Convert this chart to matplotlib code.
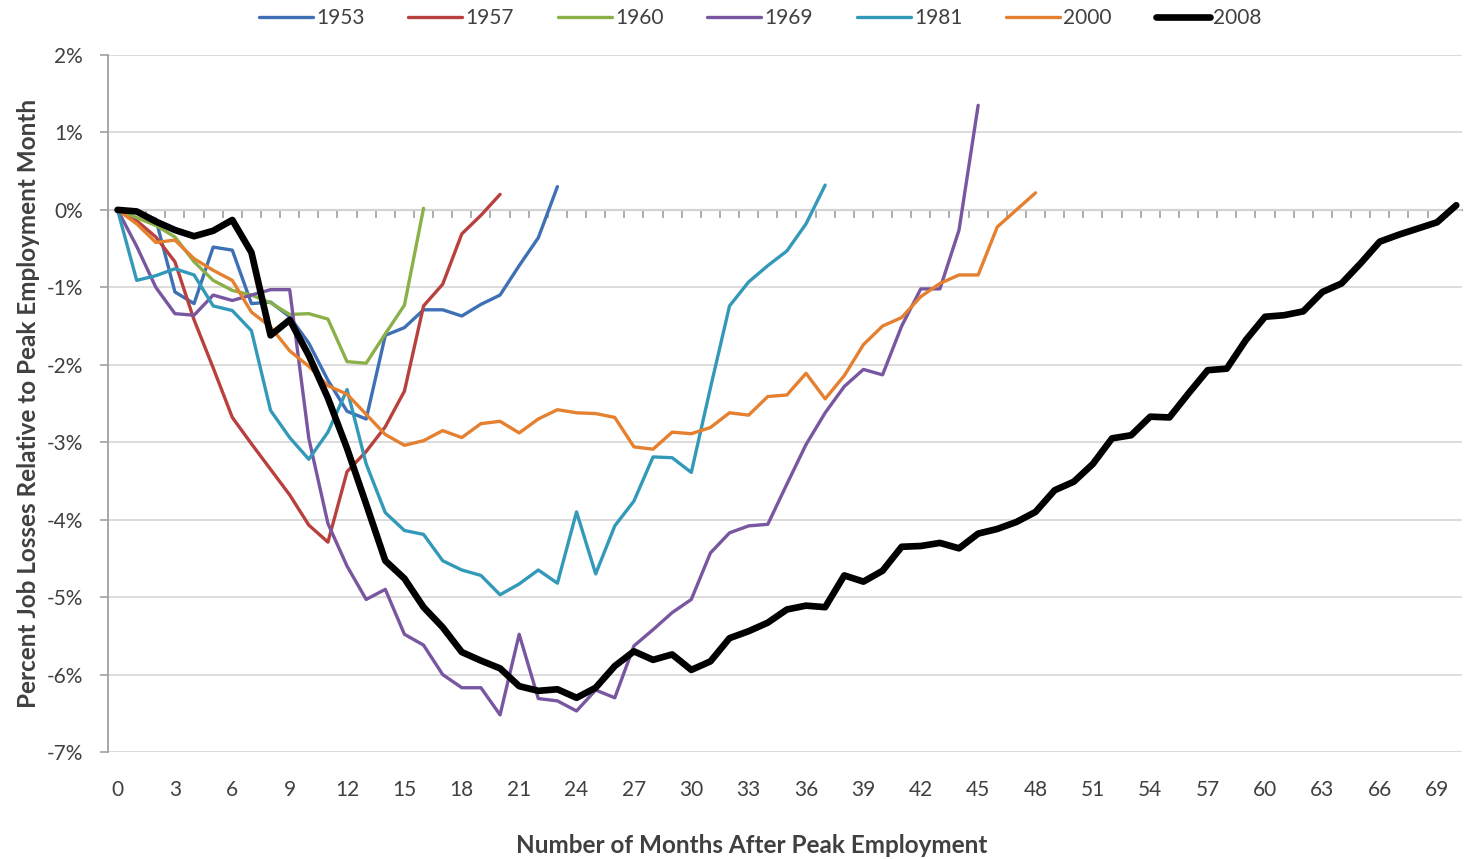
import numpy as np
import matplotlib
matplotlib.use("Agg")
import matplotlib.pyplot as plt

plt.rcParams['font.family'] = ['Lato', 'DejaVu Sans']

# valores em % (mes 0 = pico de emprego)
y1953 = [0, -0.03, -0.12, -1.06, -1.21, -0.48, -0.52, -1.21, -1.19, -1.38,
         -1.72, -2.2, -2.6, -2.7, -1.62, -1.52, -1.29, -1.29, -1.37, -1.22,
         -1.1, -0.72, -0.36, 0.3]
y1957 = [0, -0.14, -0.35, -0.67, -1.42, -2.04, -2.68, -3.02, -3.35, -3.68,
         -4.07, -4.29, -3.38, -3.12, -2.8, -2.34, -1.24, -0.96, -0.31, -0.07,
         0.2]
y1960 = [0, -0.1, -0.2, -0.35, -0.67, -0.91, -1.04, -1.1, -1.2, -1.35,
         -1.34, -1.41, -1.96, -1.98, -1.6, -1.23, 0.02]
y1969 = [0, -0.47, -1.0, -1.34, -1.36, -1.1, -1.17, -1.1, -1.03, -1.03,
         -2.95, -4.05, -4.6, -5.03, -4.9, -5.48, -5.62, -6.0, -6.17, -6.17,
         -6.52, -5.48, -6.31, -6.34, -6.47, -6.2, -6.3, -5.63, -5.42, -5.2,
         -5.03, -4.43, -4.17, -4.08, -4.06, -3.54, -3.03, -2.62, -2.28, -2.06,
         -2.13, -1.5, -1.02, -1.02, -0.26, 1.35]
y1981 = [0, -0.91, -0.85, -0.76, -0.84, -1.24, -1.3, -1.56, -2.59, -2.94,
         -3.22, -2.87, -2.32, -3.28, -3.91, -4.14, -4.19, -4.53, -4.65, -4.72,
         -4.97, -4.83, -4.65, -4.82, -3.9, -4.7, -4.08, -3.76, -3.19, -3.2,
         -3.39, -2.3, -1.24, -0.93, -0.72, -0.53, -0.18, 0.32]
y2000 = [0, -0.18, -0.42, -0.39, -0.63, -0.78, -0.91, -1.32, -1.51, -1.82,
         -2.02, -2.27, -2.38, -2.64, -2.9, -3.04, -2.98, -2.85, -2.94, -2.76,
         -2.73, -2.88, -2.7, -2.58, -2.62, -2.63, -2.68, -3.06, -3.09, -2.87,
         -2.89, -2.81, -2.62, -2.65, -2.41, -2.39, -2.11, -2.44, -2.14, -1.74,
         -1.5, -1.39, -1.12, -0.95, -0.84, -0.84, -0.22, 0.0, 0.22]
y2008 = [0, -0.02, -0.15, -0.26, -0.34, -0.27, -0.13, -0.55, -1.62, -1.42,
         -1.88, -2.43, -3.08, -3.8, -4.53, -4.76, -5.13, -5.39, -5.71, -5.82,
         -5.92, -6.15, -6.21, -6.19, -6.3, -6.17, -5.89, -5.7, -5.81, -5.74,
         -5.94, -5.83, -5.53, -5.44, -5.33, -5.16, -5.11, -5.13, -4.72, -4.8,
         -4.66, -4.35, -4.34, -4.3, -4.37, -4.18, -4.12, -4.03, -3.9, -3.62,
         -3.51, -3.28, -2.95, -2.91, -2.67, -2.68, -2.37, -2.07, -2.05, -1.68,
         -1.38, -1.36, -1.31, -1.06, -0.95, -0.69, -0.41, -0.32, -0.24, -0.16,
         0.06]

series = [
    ("1953", y1953, "#3F6FB5", 2.4),
    ("1957", y1957, "#B8413D", 2.4),
    ("1960", y1960, "#8BB04A", 2.4),
    ("1969", y1969, "#7856A0", 2.4),
    ("1981", y1981, "#3399B8", 2.4),
    ("2000", y2000, "#E4802F", 2.4),
    ("2008", y2008, "#000000", 4.8),
]

x_ticks = list(range(0, 70, 3))
y_ticks = list(range(-7, 3))
texto = "#404040"

W, H = 1466, 859
fig = plt.figure(figsize=(W / 100, H / 100), dpi=100)
ax = fig.add_axes([108 / W, 1 - 752 / H, (1462 - 108) / W, (752 - 55) / H])

for nome, valores, cor, lw in series:
    ax.plot(range(len(valores)), valores, color=cor, lw=lw, label=nome,
            solid_joinstyle="round", solid_capstyle="round", zorder=3)

ax.set_xlim(-0.5, 70.3)
ax.set_ylim(-7, 2)
ax.set_yticks(y_ticks)
ax.set_yticklabels([f"{v}%" for v in y_ticks])
ax.set_xticks(x_ticks)
ax.set_xticklabels([str(v) for v in x_ticks])

ax.yaxis.grid(True, color="#D9D9D9", lw=1.3)
ax.set_axisbelow(True)
for lado in ["top", "right", "bottom"]:
    ax.spines[lado].set_visible(False)
ax.spines["left"].set_color("#A0A0A0")
ax.spines["left"].set_linewidth(1.3)

ax.tick_params(axis="y", direction="out", length=6, width=1.2, color="#A0A0A0",
               pad=12, labelsize=15, labelcolor=texto)
ax.tick_params(axis="x", length=0, pad=20, labelsize=15, labelcolor=texto)

# eixo de categorias no 0%
eixo0 = ax.secondary_xaxis(0, transform=ax.transData)
eixo0.set_xticks(np.arange(-0.5, 70.5, 1))
eixo0.tick_params(direction="out", length=6, width=1.2, color="#A0A0A0",
                  labelbottom=False)
eixo0.spines["bottom"].set_color("#A0A0A0")
eixo0.spines["bottom"].set_linewidth(1.5)

ax.set_ylabel("Percent Job Losses Relative to Peak Employment Month",
              fontsize=17.5, fontweight="bold", color=texto, labelpad=5)
ax.set_xlabel("Number of Months After Peak Employment",
              fontsize=17.5, fontweight="bold", color=texto)
ax.xaxis.set_label_coords(0.4756, -0.117)

fig.legend(loc="upper center", bbox_to_anchor=(760 / W, 1.012), ncol=7,
           frameon=False, fontsize=15, handlelength=2.6, handletextpad=0.15,
           columnspacing=2.1, labelcolor=texto)

fig.savefig("out.png", dpi=100)
